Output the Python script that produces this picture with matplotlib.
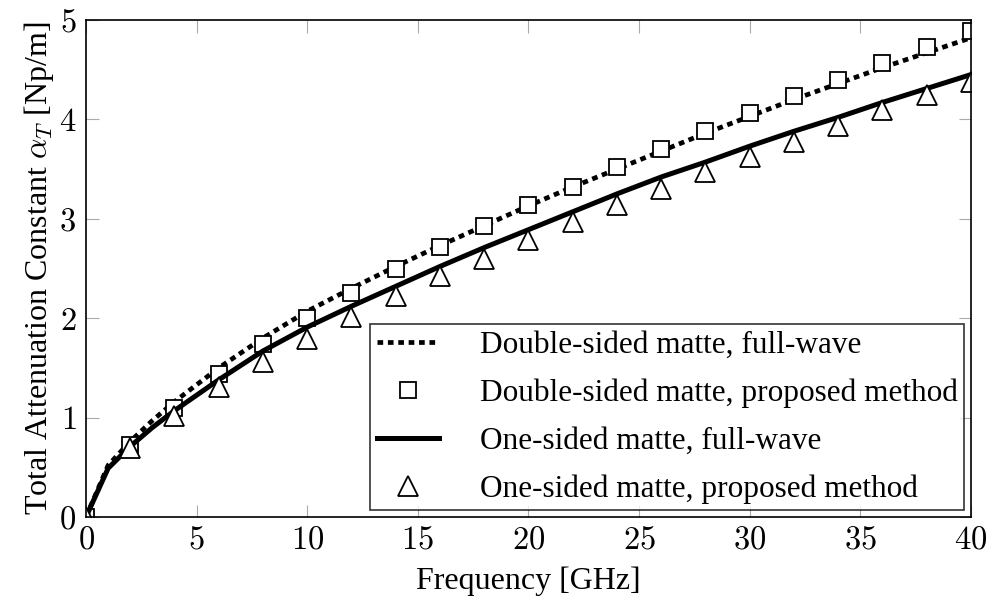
import numpy as np
import matplotlib
matplotlib.use("Agg")
import matplotlib.pyplot as plt
from matplotlib.ticker import FuncFormatter

# full-wave curves
freq_fw = [0, 1, 2, 3, 4, 6, 8, 10, 12, 14, 16, 18, 20, 22, 24, 26, 28, 30, 32, 34, 36, 38, 40]
double_fw = [0, 0.52, 0.76, 0.97, 1.16, 1.50, 1.80, 2.07, 2.30, 2.52, 2.73, 2.93, 3.13,
             3.32, 3.50, 3.68, 3.86, 4.03, 4.20, 4.36, 4.52, 4.67, 4.82]
one_fw = [0, 0.49, 0.71, 0.90, 1.07, 1.38, 1.67, 1.91, 2.12, 2.32, 2.52, 2.71, 2.89,
          3.07, 3.25, 3.42, 3.57, 3.73, 3.88, 4.02, 4.17, 4.31, 4.45]

# proposed method samples
freq_pm = [0, 2, 4, 6, 8, 10, 12, 14, 16, 18, 20, 22, 24, 26, 28, 30, 32, 34, 36, 38, 40]
double_pm = [0, 0.72, 1.10, 1.44, 1.74, 2.00, 2.25, 2.49, 2.72, 2.93, 3.14, 3.32, 3.52,
             3.70, 3.88, 4.06, 4.23, 4.40, 4.57, 4.73, 4.89]
one_pm = [0, 0.69, 1.02, 1.31, 1.56, 1.79, 2.01, 2.22, 2.42, 2.60, 2.79, 2.97, 3.14,
          3.30, 3.47, 3.62, 3.77, 3.93, 4.09, 4.25, 4.38]

labels = ["Double-sided matte, full-wave", "Double-sided matte, proposed method",
          "One-sided matte, full-wave", "One-sided matte, proposed method"]

plt.rcParams["font.family"] = ["Liberation Serif", "DejaVu Serif"]
plt.rcParams["mathtext.fontset"] = "cm"

fig = plt.figure(figsize=(9.92, 6.01), dpi=100)
ax = fig.add_axes([0.0867, 0.1398, 0.892, 0.827])

ax.plot(freq_fw, double_fw, color="black", lw=3.4, linestyle=(0, (1.2, 1.0)),
        dash_capstyle="butt", label=labels[0])
ax.plot(freq_pm, double_pm, linestyle="none", marker="s", ms=12, mfc="white",
        mec="black", mew=1.3, label=labels[1])
ax.plot(freq_fw, one_fw, color="black", lw=3.6, label=labels[2])
ax.plot(freq_pm, one_pm, linestyle="none", marker="^", ms=14.5, mfc="white",
        mec="black", mew=1.3, label=labels[3])

ax.set_xlim(0, 40)
ax.set_ylim(0, 5)
ax.set_xticks(np.arange(0, 41, 5))
ax.set_yticks(np.arange(0, 6, 1))
ax.xaxis.set_major_formatter(FuncFormatter(lambda v, p: f"${v:g}$"))
ax.yaxis.set_major_formatter(FuncFormatter(lambda v, p: f"${v:g}$"))
ax.tick_params(direction="in", length=9, width=0.8, color="#aaaaaa",
               top=True, right=True, labelsize=23.5, pad=6)
ax.tick_params(axis="y", pad=7)
for sp in ax.spines.values():
    sp.set_linewidth(1.2)

ax.set_xlabel("Frequency [GHz]", fontsize=23, labelpad=8)
ax.set_ylabel(r"Total Attenuation Constant $\alpha_T$ [Np/m]", fontsize=23, labelpad=2)

leg = ax.legend(loc="lower right", fontsize=22.5, frameon=True, fancybox=False,
                edgecolor="black", handlelength=2.0, handletextpad=1.3,
                labelspacing=0.6, borderaxespad=0.22, borderpad=0.2)
leg.get_frame().set_linewidth(1.2)

fig.savefig("out.png", dpi=100)
